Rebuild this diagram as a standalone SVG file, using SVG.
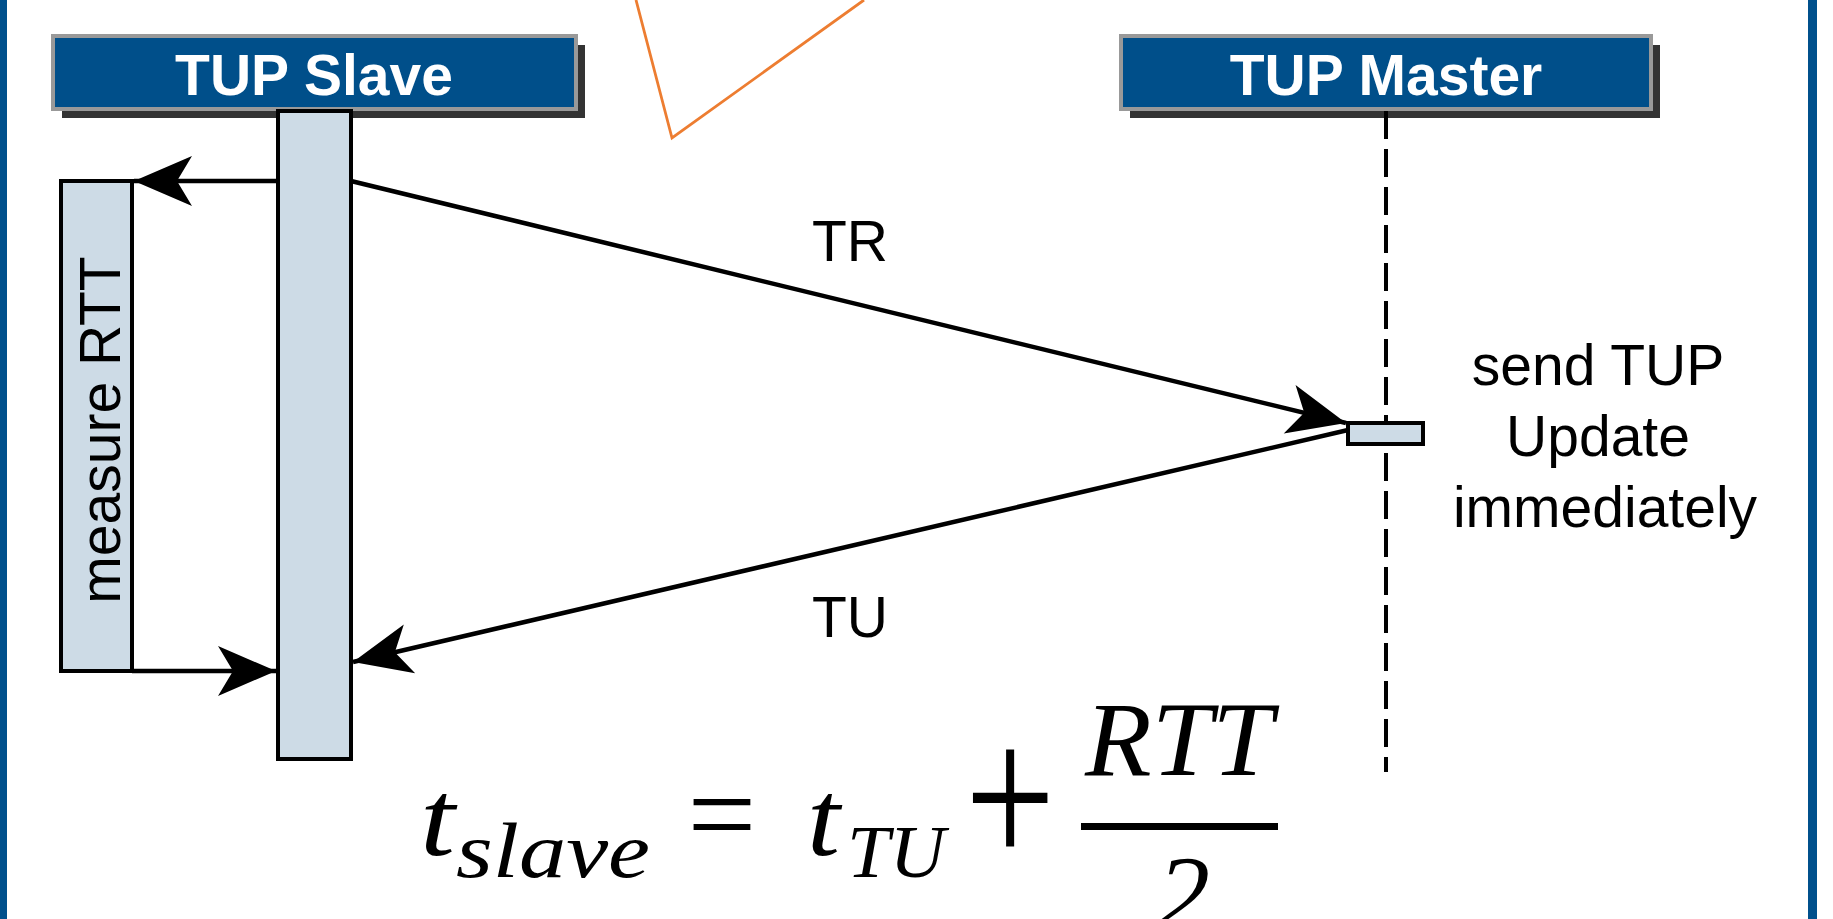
<svg xmlns="http://www.w3.org/2000/svg" width="1833" height="919" viewBox="0 0 1833 919">
<style>
.hdr{fill:#004F8A;stroke:#999999;stroke-width:4}
.shadow{fill:#333333}
.hdrtxt{font-family:"Liberation Sans",Arial,sans-serif;font-weight:bold;font-size:57px;fill:#ffffff;text-anchor:middle}
.act{fill:#CDDBE6;stroke:#000000;stroke-width:4}
.lbl{font-family:"Liberation Sans",Arial,sans-serif;font-size:57px;fill:#000000}
.msg{stroke:#000000;stroke-width:4.5;fill:none}
.math{font-family:"Liberation Serif","Times New Roman",serif;font-style:italic;fill:#000000}
.mathr{font-family:"Liberation Serif","Times New Roman",serif;fill:#000000;text-anchor:middle}
</style>
<defs>
<marker id="arr" markerUnits="userSpaceOnUse" markerWidth="66" markerHeight="60" viewBox="-62 -30 66 60" refX="0" refY="0" orient="auto">
<path d="M0,0 L-58,-25 L-43,0 L-58,25 Z" fill="#000000"/>
</marker>
</defs>
<rect x="0" y="0" width="1833" height="919" fill="#ffffff"/>
<rect x="0" y="0" width="7" height="919" fill="#00508C"/>
<rect x="1808" y="0" width="9" height="919" fill="#00508C"/>
<polyline points="636,0 672,138 864,0" fill="none" stroke="#ED7D31" stroke-width="2.8"/>
<g id="slave">
<rect class="shadow" x="62" y="45" width="523" height="73"/>
<rect class="hdr" x="53" y="36" width="523" height="73"/>
<text class="hdrtxt" x="314" y="95">TUP Slave</text>
<rect class="act" x="278" y="111" width="73" height="648"/>
</g>
<g id="master">
<rect class="shadow" x="1130" y="45" width="530" height="73"/>
<rect class="hdr" x="1121" y="36" width="530" height="73"/>
<text class="hdrtxt" x="1386" y="95">TUP Master</text>
<line x1="1386" y1="111" x2="1386" y2="772" stroke="#000000" stroke-width="4" stroke-dasharray="28,10"/>
<rect class="act" x="1348" y="423" width="75" height="21"/>
</g>
<g id="measure">
<rect class="act" x="61" y="181" width="71" height="490"/>
<text class="lbl" text-anchor="middle" transform="translate(120,430) rotate(-90)">measure RTT</text>
</g>
<g id="note">
<text class="lbl" text-anchor="middle" x="1598" y="385">send TUP</text>
<text class="lbl" text-anchor="middle" x="1598" y="456">Update</text>
<text class="lbl" text-anchor="middle" x="1605" y="527">immediately</text>
</g>
<g id="connectors">
<line class="msg" x1="278" y1="181" x2="134" y2="181" marker-end="url(#arr)"/>
<line class="msg" x1="132" y1="671" x2="276" y2="671" marker-end="url(#arr)"/>
<line class="msg" x1="351" y1="181" x2="1346" y2="423" marker-end="url(#arr)"/>
<line class="msg" x1="1348" y1="430" x2="353" y2="662" marker-end="url(#arr)"/>
<text class="lbl" x="812" y="261">TR</text>
<text class="lbl" x="812" y="637">TU</text>
</g>
<g id="formula">
<text class="math" x="420" y="855" font-size="108" textLength="35" lengthAdjust="spacingAndGlyphs">t</text>
<text class="math" x="456" y="877" font-size="78" textLength="194" lengthAdjust="spacingAndGlyphs">slave</text>
<text class="mathr" x="722" y="855" font-size="122">=</text>
<text class="math" x="807" y="855" font-size="108" textLength="33" lengthAdjust="spacingAndGlyphs">t</text>
<text class="math" x="847" y="877" font-size="74" textLength="98" lengthAdjust="spacingAndGlyphs">TU</text>
<text class="mathr" transform="translate(1010,867) scale(1,1.3)" font-size="160">+</text>
<text class="math" x="1085" y="775" font-size="106" textLength="188" lengthAdjust="spacingAndGlyphs">RTT</text>
<rect x="1081" y="823" width="197" height="7" fill="#000000"/>
<text class="math" x="1157" y="929" font-size="106">2</text>
</g>
</svg>
